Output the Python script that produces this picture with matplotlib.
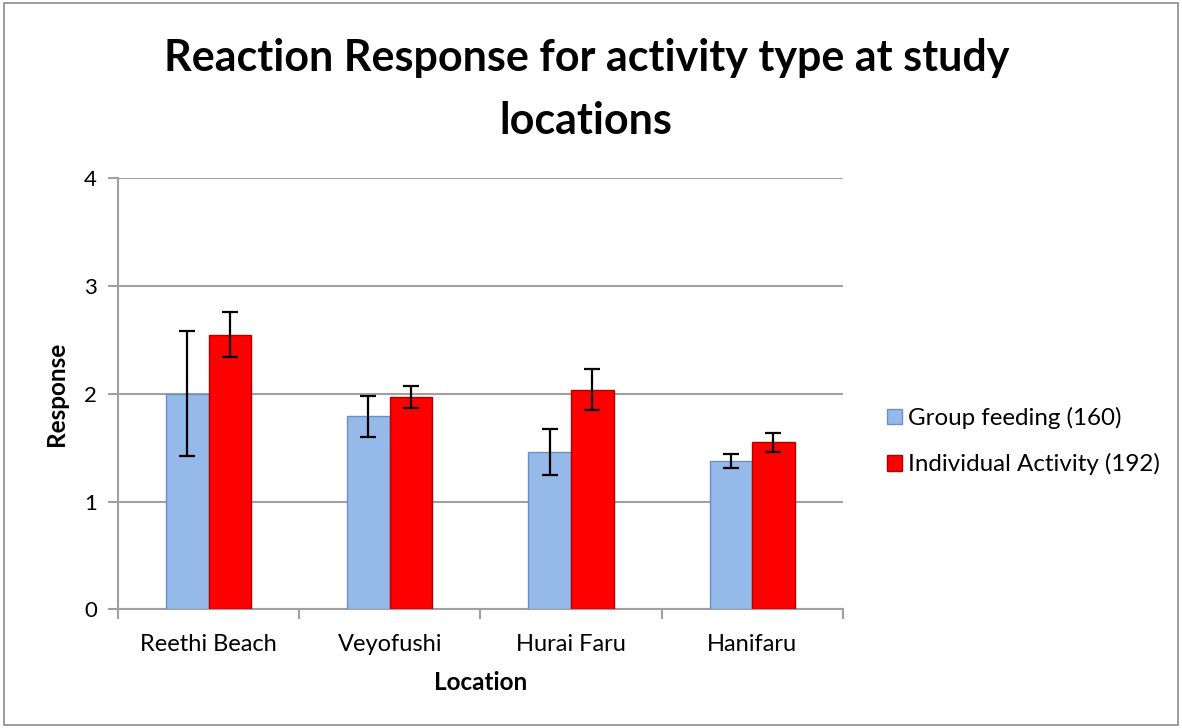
import numpy as np
import matplotlib
matplotlib.use('Agg')
import matplotlib.pyplot as plt
from matplotlib.patches import Rectangle

# ---- data ----
locations = ['Reethi Beach', 'Veyofushi', 'Hurai Faru', 'Hanifaru']
group_feeding = [2.00, 1.79, 1.46, 1.38]
group_err = [0.58, 0.19, 0.21, 0.065]
individual = [2.55, 1.97, 2.04, 1.55]
individual_err = [0.21, 0.105, 0.19, 0.09]
series_names = ['Group feeding (160)', 'Individual Activity (192)']

plt.rcParams['font.family'] = ['Lato', 'DejaVu Sans']

fig = plt.figure(figsize=(11.82, 7.28), dpi=100)
fig.patches.append(Rectangle((0.003, 0.004), 0.994, 0.992, transform=fig.transFigure,
                             fill=False, edgecolor='#8c8c8c', linewidth=1.2))
ax = fig.add_axes([0.0998, 0.163, 0.6132, 0.592])

x = np.arange(len(locations))
w = 0.235
grid_c = '#a0a0a0'
ekw = dict(ecolor='black', elinewidth=1.6, capsize=5.5, capthick=1.6)

ax.bar(x - w/2, group_feeding, w, color='#95b9e9', edgecolor='#6f8fbf', linewidth=1.0,
       yerr=group_err, error_kw=ekw, label=series_names[0], zorder=3)
ax.bar(x + w/2, individual, w, color='#ff0000', edgecolor='#b00000', linewidth=1.0,
       yerr=individual_err, error_kw=ekw, label=series_names[1], zorder=3)

ax.set_xlim(-0.5, len(locations) - 0.5)
ax.set_ylim(0, 4)
ax.set_yticks([0, 1, 2, 3, 4])
ax.yaxis.grid(True, color=grid_c, linewidth=1.5, zorder=0)
ax.set_axisbelow(True)
for s in ['top', 'right']:
    ax.spines[s].set_visible(False)
ax.spines['left'].set_color(grid_c)
ax.spines['left'].set_linewidth(1.5)
ax.spines['bottom'].set_color(grid_c)
ax.spines['bottom'].set_linewidth(1.5)

ax.set_xticks(x)
ax.set_xticklabels(locations, fontsize=17)
ax.set_xticks(np.arange(-0.5, len(locations)), minor=True)
ax.tick_params(axis='x', which='major', length=0, pad=18)
ax.tick_params(axis='x', which='minor', length=7, width=1.5, color=grid_c)
ax.tick_params(axis='y', length=7, width=1.5, color=grid_c, labelsize=16, pad=8)

ax.set_xlabel('Location', fontsize=17.5, fontweight='bold', labelpad=11)
ax.set_ylabel('Response', fontsize=17.5, fontweight='bold', labelpad=12)

fig.text(0.496, 0.877, 'Reaction Response for activity type at study\nlocations',
         ha='center', va='center', fontsize=31, fontweight='bold', linespacing=1.68)

leg = fig.legend(loc='center left', bbox_to_anchor=(0.750, 0.394), frameon=False,
                 fontsize=17.4, handlelength=0.63, handleheight=0.63, handletextpad=0.25,
                 labelspacing=1.0, borderpad=0, borderaxespad=0)

fig.savefig('out.png', dpi=100)
